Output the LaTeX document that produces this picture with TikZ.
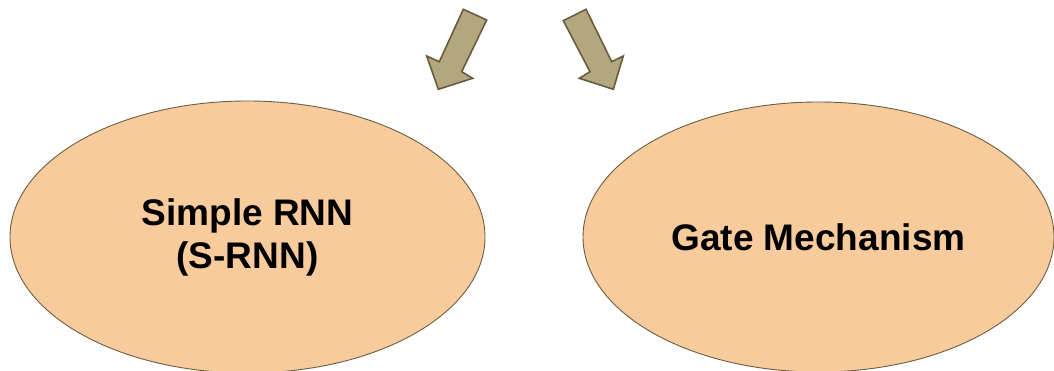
\documentclass[tikz,border=0pt]{standalone}
\usepackage{fontspec}
\setmainfont{Liberation Sans}
\usetikzlibrary{shapes.geometric}
\definecolor{peach}{HTML}{F8CB9C}
\definecolor{peachline}{HTML}{6B5E40}
\definecolor{khaki}{HTML}{B3A77F}
\definecolor{khakiline}{HTML}{6A5C3E}
\tikzset{
  oval/.style={ellipse, draw=peachline, fill=peach, line width=0.9pt, inner sep=0pt,
    font=\fontsize{37}{43}\selectfont\bfseries, align=center, text=black},
  bigarrow/.style={draw=khakiline, fill=khaki, line width=1.6pt, line join=miter}
}
\begin{document}
\begin{tikzpicture}[x=1pt,y=-1pt]
\useasboundingbox (0,0) rectangle (1054,371);
\node[oval, minimum width=475pt, minimum height=272pt] (srnn) at (247.5,237) {Simple RNN\\(S-RNN)};
\node[oval, minimum width=471pt, minimum height=270pt] (gate) at (818.5,237) {Gate Mechanism};
\draw[bigarrow] (463.3,9.3) -- (486.7,20) -- (461.7,71.7) -- (472.7,78.3) -- (438.3,89.3) -- (426.7,56) -- (439.3,61.7) -- cycle;
\draw[bigarrow] (586,9.3) -- (563.3,20.7) -- (590,71.7) -- (579.3,78.3) -- (613.3,89.3) -- (623.3,56) -- (611.7,61.7) -- cycle;
\end{tikzpicture}
\end{document}
